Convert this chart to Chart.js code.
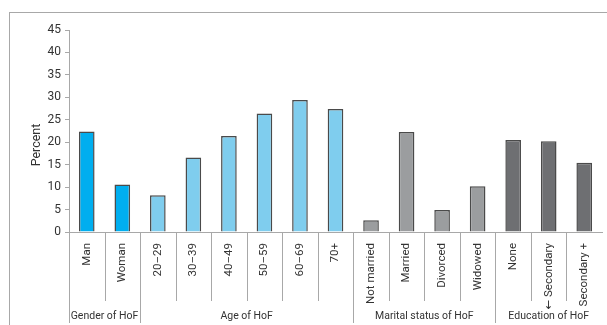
<!DOCTYPE html>
<html>
<head>
<meta charset="utf-8">
<script src="https://cdn.jsdelivr.net/npm/chart.js@4"></script>
<style>
  body { margin: 0; background: #fff; }
  #wrap { position: relative; width: 607px; height: 325px; overflow: hidden; }
  #frame { position: absolute; left: 9px; top: 12px; width: 700px; height: 400px; border: 1px solid #a8a8a8; }
  canvas { position: absolute; left: 0; top: 0; }
</style>
</head>
<body>
<div id="wrap">
  <div id="frame"></div>
  <canvas id="chart" width="607" height="325"></canvas>
</div>
<script>
  const categories = ["Man", "Woman", "20\u201329", "30\u201339", "40\u201349", "50\u201359", "60\u201369", "70+",
    "Not married", "Married", "Divorced", "Widowed", "None", "\u2190 Secondary", "Secondary +"];
  const percents = [22.4, 10.6, 8.2, 16.6, 21.4, 26.4, 29.4, 27.4, 2.6, 22.3, 4.9, 10.2, 20.5, 20.2, 15.4];
  const groupNames = ["Gender of HoF", "Age of HoF", "Marital status of HoF", "Education of HoF"];
  const groupSizes = [2, 6, 4, 3];
  const groupColors = ["#00aeef", "#7fcdee", "#9b9d9f", "#6e6f72"];

  const FONT = "Roboto, 'DejaVu Sans'";

  // colour each bar by its group
  const barColors = [];
  groupSizes.forEach((n, g) => {
    for (let i = 0; i < n; i++) barColors.push(groupColors[g]);
  });

  const groupLines = {
    id: "groupLines",
    afterDraw(chart) {
      const ctx = chart.ctx;
      const x = chart.scales.x;
      const bottom = chart.chartArea.bottom;
      const half = (x.getPixelForValue(1) - x.getPixelForValue(0)) / 2;
      const bounds = [0];
      groupSizes.forEach((n, g) => bounds.push(bounds[g] + n));

      ctx.save();
      ctx.strokeStyle = "#a8a8a8";
      ctx.lineWidth = 1;
      for (let i = 0; i < categories.length; i++) {
        const px = Math.round(x.getPixelForValue(i) - half) + 0.5;
        const isGroup = bounds.includes(i);
        ctx.beginPath();
        ctx.moveTo(px, bottom);
        ctx.lineTo(px, isGroup ? 323 : 301);
        ctx.stroke();
      }

      ctx.fillStyle = "#333";
      ctx.font = "10.5px " + FONT;
      ctx.textAlign = "center";
      ctx.textBaseline = "middle";
      groupNames.forEach((name, g) => {
        const a = x.getPixelForValue(bounds[g]) - half;
        const b = x.getPixelForValue(bounds[g + 1] - 1) + half;
        ctx.fillText(name, (a + b) / 2, 316.5);
      });

      // y axis title, sitting a little below the plot's middle
      ctx.font = "12.5px " + FONT;
      ctx.translate(37, 145);
      ctx.rotate(-Math.PI / 2);
      ctx.fillText("Percent", 0, 0);
      ctx.restore();
    }
  };

  window.onload = () => {
    const ctx = document.getElementById("chart").getContext("2d");
    new Chart(ctx, {
      type: "bar",
      data: {
        labels: categories,
        datasets: [
          {
            data: percents,
            backgroundColor: barColors,
            borderColor: "#4a4a4a",
            borderWidth: 1.5,
            barPercentage: 0.44,
            categoryPercentage: 1,
          },
        ],
      },
      options: {
        responsive: false,
        animation: false,
        layout: { padding: { top: 30, right: 5, left: 0, bottom: 0 } },
        plugins: {
          legend: { display: false },
          tooltip: { enabled: false },
        },
        scales: {
          x: {
            grid: { display: false },
            border: { color: "#a8a8a8" },
            afterFit: (s) => { s.height = 93; },
            ticks: {
              autoSkip: false,
              minRotation: 90,
              maxRotation: 90,
              padding: 3,
              color: "#333",
              font: { family: FONT, size: 11.5 },
            },
          },
          y: {
            min: 0,
            max: 45,
            afterFit: (s) => { s.width = 69; },
            border: { color: "#a8a8a8" },
            grid: { drawOnChartArea: false, drawTicks: true, tickLength: 4, color: "#a8a8a8" },
            ticks: {
              stepSize: 5,
              padding: 4,
              color: "#333",
              font: { family: FONT, size: 12 },
            },
          },
        },
      },
      plugins: [groupLines],
    });
  };
</script>
</body>
</html>
